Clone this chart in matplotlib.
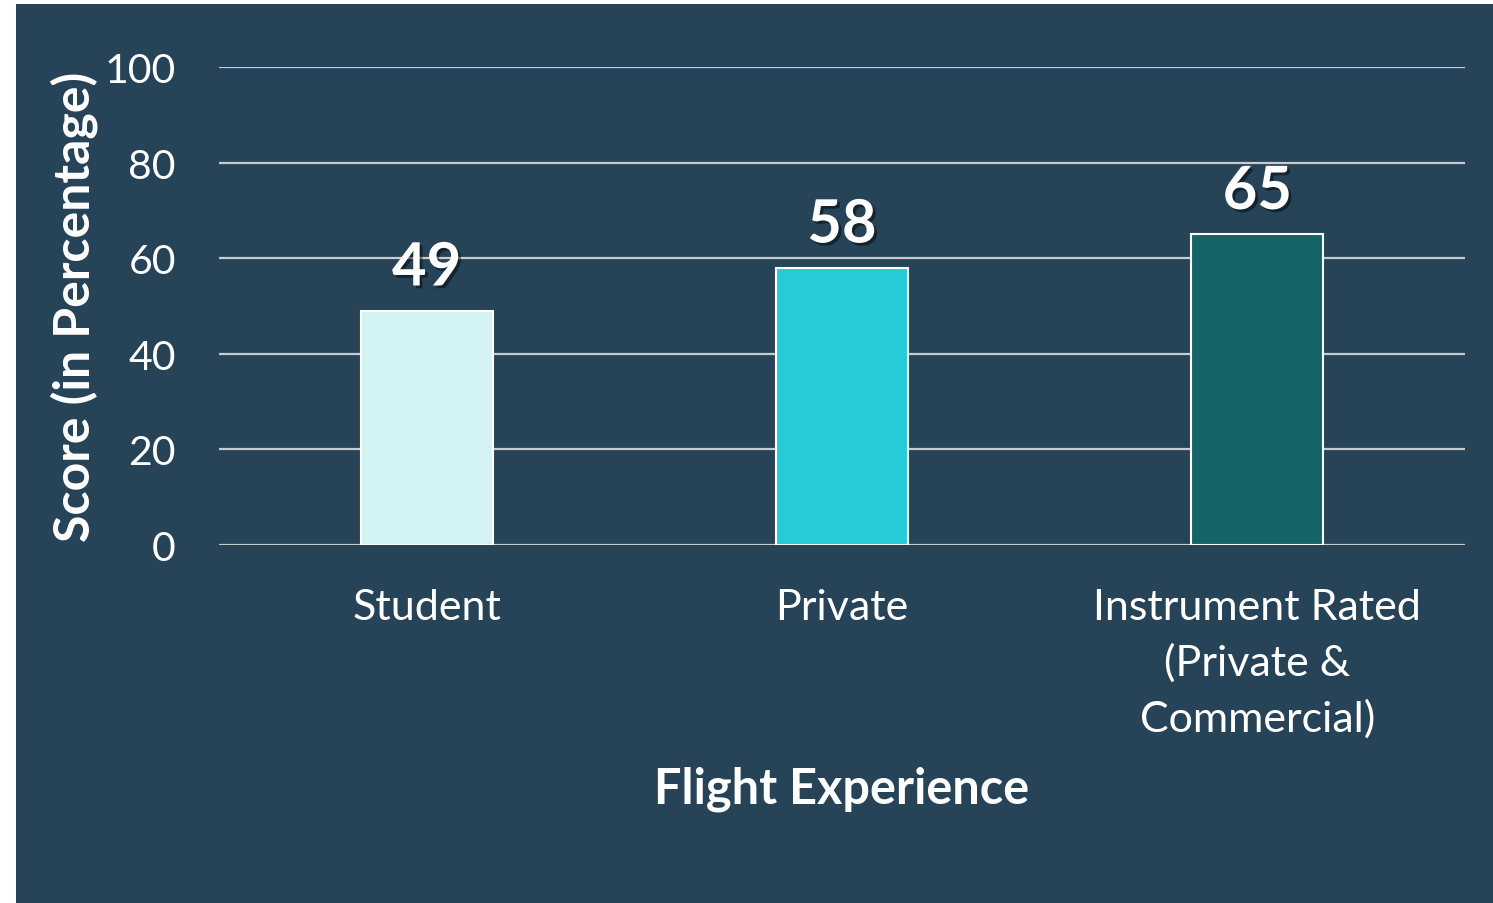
import matplotlib
matplotlib.use("Agg")
import matplotlib.pyplot as plt
import matplotlib.patheffects as pe
from matplotlib.patches import Rectangle

categories = ["Student", "Private", "Instrument Rated\n(Private &\nCommercial)"]
scores = [49, 58, 65]
bar_colors = ["#D4F3F5", "#26CBD5", "#146468"]
y_ticks = [0, 20, 40, 60, 80, 100]

BG = "#264357"
GRID = "#C9CCCF"
FONT = ["Lato", "DejaVu Sans"]

plt.rcParams["font.family"] = FONT

fig = plt.figure(figsize=(14.93, 9.04), dpi=100)
fig.patch.set_facecolor("white")
fig.add_artist(Rectangle((16 / 1493, 0), 1, 1 - 5 / 904, transform=fig.transFigure,
                         facecolor=BG, edgecolor="none", zorder=0))

ax = fig.add_axes([219 / 1493, 1 - 546 / 904, (1465 - 219) / 1493, (546 - 68) / 904])
ax.set_facecolor("none")

x = range(len(categories))
ax.bar(x, scores, width=0.318, color=bar_colors, edgecolor="white", linewidth=1.5, zorder=3)

shadow = [pe.SimplePatchShadow(offset=(2, -2), shadow_rgbFace="black", alpha=0.45), pe.Normal()]
for xi, v in zip(x, scores):
    ax.annotate(str(v), (xi, v), xytext=(0, 11), textcoords="offset points",
                ha="center", va="bottom", fontsize=43, fontweight="bold",
                color="white", path_effects=shadow, zorder=4)

ax.set_xlim(-0.5, 2.5)
ax.set_ylim(0, 100)
ax.set_yticks(y_ticks)
ax.set_xticks(list(x))
ax.set_xticklabels(categories, linespacing=1.5)
ax.yaxis.grid(True, color=GRID, linewidth=1.6, zorder=1)
ax.set_axisbelow(True)
for s in ax.spines.values():
    s.set_visible(False)
ax.tick_params(axis="both", length=0, colors="white")
ax.tick_params(axis="y", pad=31, labelsize=29.5)
ax.tick_params(axis="x", pad=31, labelsize=31)

ax.set_xlabel("Flight Experience", fontsize=35, fontweight="bold", color="white", labelpad=20)
ax.set_ylabel("Score (in Percentage)", fontsize=36, fontweight="bold", color="white", labelpad=5)

fig.savefig("out.png", dpi=100, facecolor=fig.get_facecolor())
